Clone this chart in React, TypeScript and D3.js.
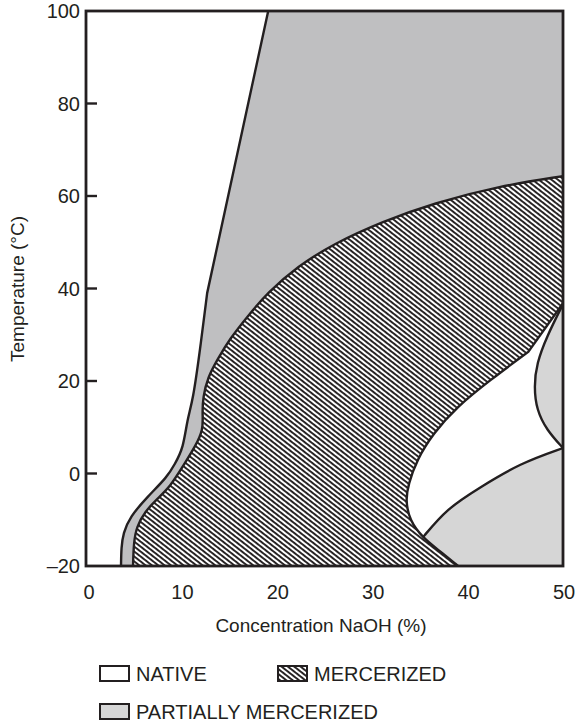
import React, { useRef, useEffect } from 'react';
import * as d3 from 'd3';

// boundary curves as [NaOH %, temperature °C]
const nativeTop: [number, number][] = [[19.1, 100], [12.7, 39]];
const nativeLow: [number, number][] = [
  [12.7, 39], [11.95, 26.7], [11.22, 15.9], [10.6, 11.6], [10.2, 5.5], [9.3, 2.0],
  [8.5, -0.8], [6.4, -5.1], [4.6, -9.4], [3.9, -12.9], [3.7, -16], [3.67, -20],
];
const mercEdge: [number, number][] = [
  [4.93, -20], [5.0, -15], [5.3, -11.5], [6.2, -8.2], [7.4, -5.6], [8.81, -2.9], [10.17, 1.6],
  [11.5, 6.0], [12.3, 9.6], [12.2, 12.8], [12.25, 16.5], [12.79, 20.9], [13.73, 24.5],
  [15.1, 29.2], [16.88, 33.8], [18.97, 39.0], [22.2, 44.8], [25.89, 49.6], [31.13, 54.5],
  [36.37, 58.4], [43.4, 62.2], [50, 64.3],
];
const hatchTop: [number, number][] = [[50, 36.8], [46.36, 26.3]];
const hatchLow: [number, number][] = [
  [46.36, 26.3], [42.35, 20.2], [38.86, 14.4], [36.41, 8.7], [34.66, 2.9], [33.78, -2.4],
  [33.5, -5.7], [33.9, -10.1], [35.3, -13.9], [37.11, -16.8], [39.0, -20],
];
const lowerTop: [number, number][] = [
  [34.0, -17.0], [35.36, -13.7], [37.81, -7.6], [41.3, -3.0], [45.49, 2.2], [50, 5.5],
];
const crescent: [number, number][] = [
  [50, 36.6], [48.29, 29.6], [47.24, 23.8], [46.96, 18.8], [47.24, 13.7], [48.29, 9.4], [50, 5.5],
];

const xTicks = [0, 10, 20, 30, 40, 50];
const yTicks = [-20, 0, 20, 40, 60, 80, 100];
const legendItems = ['NATIVE', 'MERCERIZED', 'PARTIALLY MERCERIZED'];

const INK = '#231f20';
const GRAY = '#bfbfc1';
const LIGHT = '#d6d6d6';
const FONT = '"Liberation Sans", Arial, Helvetica, sans-serif';

const App = () => {
  const ref = useRef<SVGSVGElement>(null);

  useEffect(() => {
    if (!ref.current) return;
    const svg = d3.select(ref.current);
    svg.selectAll('*').remove();

    const x = d3.scaleLinear().domain([0, 50]).range([86, 563]);
    const y = d3.scaleLinear().domain([-20, 100]).range([566, 11]);

    const smooth = d3.line<[number, number]>()
      .x(d => x(d[0])).y(d => y(d[1]))
      .curve(d3.curveBasis);
    const straight = d3.line<[number, number]>()
      .x(d => x(d[0])).y(d => y(d[1]));
    const join = (...parts: string[]) =>
      parts.map((p, i) => (i === 0 ? p : p.replace(/^M/, 'L'))).join('');

    const defs = svg.append('defs');
    const pat = defs.append('pattern')
      .attr('id', 'hatch')
      .attr('patternUnits', 'userSpaceOnUse')
      .attr('width', 10).attr('height', 3.9)
      .attr('patternTransform', 'rotate(38)');
    pat.append('rect').attr('width', 10).attr('height', 3.9).attr('fill', '#fff');
    pat.append('rect').attr('y', 0).attr('width', 10).attr('height', 1.9).attr('fill', INK);

    const rightRegion = join(
      straight(hatchTop)!, smooth(hatchLow)!,
      straight([[39, -20], [50, -20], [50, 36.8]])!,
    ) + 'Z';
    defs.append('clipPath').attr('id', 'right-clip')
      .append('path').attr('d', rightRegion);

    // partially mercerized (upper)
    svg.append('path')
      .attr('d', join(
        straight(nativeTop)!, smooth(nativeLow)!,
        straight([[3.67, -20], [4.93, -20]])!, smooth(mercEdge)!,
        straight([[50, 64.3], [50, 100], [19.1, 100]])!,
      ) + 'Z')
      .attr('fill', GRAY);

    // mercerized
    svg.append('path')
      .attr('d', join(smooth(mercEdge)!, straight([[50, 64.3], [50, -20], [4.93, -20]])!) + 'Z')
      .attr('fill', 'url(#hatch)');

    // native (right)
    svg.append('path').attr('d', rightRegion).attr('fill', '#fff');

    // partially mercerized (lower right)
    svg.append('path')
      .attr('d', join(smooth(lowerTop)!, straight([[50, 5.5], [50, -20], [34.0, -20]])!) + 'Z')
      .attr('fill', LIGHT)
      .attr('clip-path', 'url(#right-clip)');
    svg.append('path')
      .attr('d', smooth(crescent)! + 'Z')
      .attr('fill', LIGHT);

    // boundary lines
    const lines = [
      join(straight(nativeTop)!, smooth(nativeLow)!),
      smooth(mercEdge)!,
      join(straight(hatchTop)!, smooth(hatchLow)!),
      smooth(crescent)!,
    ];
    svg.selectAll('.edge').data(lines).enter().append('path')
      .attr('class', 'edge')
      .attr('d', d => d)
      .attr('fill', 'none').attr('stroke', INK).attr('stroke-width', 2.4)
      .attr('stroke-linejoin', 'round');
    svg.append('path')
      .attr('d', smooth(lowerTop)!)
      .attr('fill', 'none').attr('stroke', INK).attr('stroke-width', 2.4)
      .attr('clip-path', 'url(#right-clip)');

    // frame
    svg.append('rect')
      .attr('x', x(0)).attr('y', y(100))
      .attr('width', x(50) - x(0)).attr('height', y(-20) - y(100))
      .attr('fill', 'none').attr('stroke', INK).attr('stroke-width', 2.8);

    // y ticks (inward) and labels
    svg.selectAll('.ytick').data(yTicks.slice(1, -1)).enter().append('line')
      .attr('x1', x(0)).attr('x2', x(0) + 11)
      .attr('y1', d => y(d)).attr('y2', d => y(d))
      .attr('stroke', INK).attr('stroke-width', 2.4);
    svg.selectAll('.ylab').data(yTicks).enter().append('text')
      .attr('x', 80).attr('y', d => y(d) + 7)
      .attr('text-anchor', 'end')
      .attr('font-family', FONT).attr('font-size', 20).attr('fill', INK)
      .text(d => (d < 0 ? `\u2013${-d}` : `${d}`));

    svg.selectAll('.xlab').data(xTicks).enter().append('text')
      .attr('x', d => x(d) + (d === 0 ? 3 : 1)).attr('y', 599)
      .attr('text-anchor', 'middle')
      .attr('font-family', FONT).attr('font-size', 20).attr('fill', INK)
      .text(d => d);

    svg.append('text')
      .attr('x', 321).attr('y', 632)
      .attr('text-anchor', 'middle')
      .attr('font-family', FONT).attr('font-size', 19).attr('fill', INK)
      .text('Concentration NaOH (%)');
    svg.append('text')
      .attr('transform', 'translate(24,289) rotate(-90)')
      .attr('text-anchor', 'middle')
      .attr('font-family', FONT).attr('font-size', 19).attr('fill', INK)
      .text('Temperature (\u00b0C)');

    // legend
    const legendPos = [
      { bx: 100, by: 666, fill: '#fff' },
      { bx: 278, by: 666, fill: 'url(#hatch)' },
      { bx: 100, by: 704, fill: LIGHT },
    ];
    const lg = svg.selectAll('.leg').data(legendItems).enter().append('g');
    lg.append('rect')
      .attr('x', (_, i) => legendPos[i].bx).attr('y', (_, i) => legendPos[i].by)
      .attr('width', 29).attr('height', 15)
      .attr('fill', (_, i) => legendPos[i].fill)
      .attr('stroke', INK).attr('stroke-width', 2);
    lg.append('text')
      .attr('x', (_, i) => legendPos[i].bx + 36).attr('y', (_, i) => legendPos[i].by + 15)
      .attr('font-family', FONT).attr('font-size', 20).attr('fill', INK)
      .text(d => d);
  }, []);

  return (
    <svg
      ref={ref}
      width={577}
      height={726}
      style={{ position: 'absolute', left: 0, top: 0, background: '#fff' }}
    />
  );
};

export default App;
